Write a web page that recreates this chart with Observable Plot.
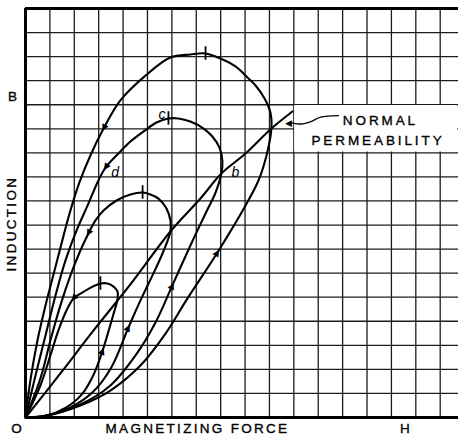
<!DOCTYPE html>
<html><head><meta charset="utf-8">
<script src="https://cdn.jsdelivr.net/npm/d3@7"></script>
<script src="https://cdn.jsdelivr.net/npm/@observablehq/plot@0.6"></script>
<style>body{margin:0;background:#fff} svg{display:block}</style>
</head><body><div id="chart"></div>
<script>
// grid (one cell = one unit of H and B)
const gridX = d3.range(0, 18);
const gridY = d3.range(0, 18);

// Hysteresis loops: [H, B] along ascending branch, over the top, down the descending branch
const loopA = [[0,0],[0.82,0.07],[2.25,0.5],[3.48,1.12],[4.71,2.16],[5.74,3.49],[6.64,4.95],[7.87,6.86],[9.02,8.81],[9.55,9.85],[9.88,10.89],[10.08,12.01],
  [10.04,12.68],[9.8,13.26],[9.43,13.8],[9.1,14.13],[8.61,14.59],[7.99,14.92],[7.38,15.13],[6.76,15.09],[5.94,14.96],[4.92,14.21],[3.89,13.18],[3.2,12.01],
  [2.66,10.89],[2.21,9.77],[1.84,8.6],[1.56,7.56],[1.19,6.11],[0.82,4.66],[0.49,3.2],[0.2,1.54],[0,0]];
const loopB = [[0,0],[0.82,0.07],[2.25,0.54],[3.48,1.33],[4.51,2.58],[5.33,3.95],[6.02,5.49],[6.76,7.15],[7.38,8.48],[7.79,9.35],[8.03,10.14],
  [8.07,10.68],[7.95,11.22],[7.66,11.68],[7.3,12.01],[6.76,12.3],[6.27,12.43],[5.86,12.43],[5.37,12.26],[4.84,11.89],[4.3,11.47],[3.89,11.06],[3.28,10.39],
  [2.95,9.77],[2.58,8.89],[2.09,7.77],[1.64,6.53],[1.23,5.07],[0.82,3.41],[0.41,1.75],[0,0]];
const loopC = [[0,0],[0.82,0.07],[1.84,0.42],[2.75,1.05],[3.5,2.05],[4.22,3.74],[4.75,4.95],[5.25,6.0],[5.65,6.9],[5.94,7.73],
  [5.94,8.19],[5.78,8.69],[5.45,9.1],[5.12,9.27],[4.8,9.35],[4.3,9.27],[3.73,9.02],[3.2,8.6],[2.87,8.19],[2.58,7.65],
  [2.25,6.94],[1.84,5.9],[1.43,4.66],[1.02,3.2],[0.61,1.62],[0,0]];
const loopD = [[0,0],[0.82,0.07],[1.64,0.4],[2.3,0.95],[2.8,1.8],[3.16,2.78],[3.45,3.75],[3.62,4.35],[3.77,4.9],
  [3.77,5.24],[3.61,5.44],[3.36,5.57],[3.07,5.57],[2.75,5.44],[2.34,5.2],[1.97,4.95],
  [1.68,4.45],[1.35,3.62],[1.02,2.58],[0.61,1.33],[0,0]];
// normal permeability curve through the loop tips
const normalCurve = [[0,0],[1.43,1.83],[2.79,3.62],[4.3,5.53],[5.94,7.73],[7.17,9.1],[8.03,10.14],[9.02,10.97],[10.08,12.01],[10.94,12.72]];

// direction arrows on branches: [H, B, angle]
const arrows = [[3.2,12.01,208],[3.28,10.39,216],[2.58,7.65,207],[1.97,4.95,221],
  [7.87,6.86,32],[6.02,5.49,24],[4.22,3.74,26],[3.16,2.78,20]];
// small cross ticks at loop tops
const topTicks = [[7.38,15.13],[5.86,12.43],[4.8,9.35],[3.07,5.57]];
// point labels
const pointLabels = [["c",5.6,12.6],["d",3.67,10.2],["b",8.6,10.2]];
const leader = [[10.9,12.25],[11.3,12.2],[11.7,12.3],[12.1,12.48],[12.83,12.55]];

const loops = [["A",loopA],["B",loopB],["C",loopC],["D",loopD]];
const rows = loops.flatMap(([k, pts]) => pts.map(([u, v]) => ({k, u, v})));

const font = "'Liberation Sans', Arial, sans-serif";
const lab = {fontSize: 13.5, fill: "#000", stroke: "#000", strokeWidth: 0.35};
const chart = Plot.plot({
  width: 458, height: 437,
  marginLeft: 25, marginRight: 0, marginTop: 8, marginBottom: 20,
  x: {domain: [0, 17.75], axis: null},
  y: {domain: [0, 17], axis: null},
  style: {background: "#fff", fontFamily: font, color: "#111"},
  marks: [
    Plot.ruleX(gridX, {stroke: "#1c1c1c", strokeWidth: 1.3}),
    Plot.ruleY(gridY, {stroke: "#1c1c1c", strokeWidth: 1.3}),
    Plot.rect([[11, 17.75, 11, 13]], {x1: d => d[0], x2: d => d[1], y1: d => d[2], y2: d => d[3], fill: "#fff", inset: 0.8}),
    Plot.ruleX([0], {stroke: "#000", strokeWidth: 3}),
    Plot.ruleY([0, 17], {stroke: "#000", strokeWidth: 3}),
    Plot.line(rows, {x: "u", y: "v", z: "k", curve: "catmull-rom", stroke: "#000", strokeWidth: 2.1}),
    Plot.line(normalCurve, {x: d => d[0], y: d => d[1], curve: "catmull-rom", stroke: "#000", strokeWidth: 2.1}),
    Plot.line(leader, {x: d => d[0], y: d => d[1], curve: "catmull-rom", stroke: "#000", strokeWidth: 1.3}),
    Plot.text([leader[0]], {x: d => d[0], y: d => d[1], text: () => "◀", fontSize: 9, fontFamily: "DejaVu Sans", dx: -3, fill: "#000"}),
    Plot.ruleX(topTicks, {x: d => d[0], y1: d => d[1] - 0.28, y2: d => d[1] + 0.28, stroke: "#000", strokeWidth: 1.8}),
    Plot.text(arrows, {x: d => d[0], y: d => d[1], rotate: d => d[2], text: () => "▲", fontSize: 9, fontFamily: "DejaVu Sans", fill: "#000"}),
    Plot.text(pointLabels, {x: d => d[1], y: d => d[2], text: d => d[0], fontSize: 14, fontStyle: "italic", fill: "#000"}),
    Plot.text(["NORMAL"], {x: 14.55, y: 12.34, text: d => d, ...lab}),
    Plot.text(["PERMEABILITY"], {x: 14.45, y: 11.5, text: d => d, ...lab}),
    Plot.text(["O"], {x: -0.37, y: -0.48, text: d => d, ...lab}),
    Plot.text(["MAGNETIZING FORCE"], {x: 7.05, y: -0.48, text: d => d, ...lab}),
    Plot.text(["H"], {x: 15.55, y: -0.48, text: d => d, ...lab}),
    Plot.text(["B"], {x: -0.53, y: 13.35, text: d => d, ...lab}),
    Plot.text(["INDUCTION"], {x: -0.55, y: 8.06, text: d => d, ...lab, rotate: -90})
  ]
});
chart.querySelectorAll("text").forEach(t => {
  const s = t.textContent;
  if (s === "NORMAL" || s === "PERMEABILITY") t.setAttribute("letter-spacing", "2.9");
  else if (/^[A-Z ]{2,}$/.test(s)) t.setAttribute("letter-spacing", "2.3");
});
document.getElementById("chart").append(chart);
</script>
</body></html>
